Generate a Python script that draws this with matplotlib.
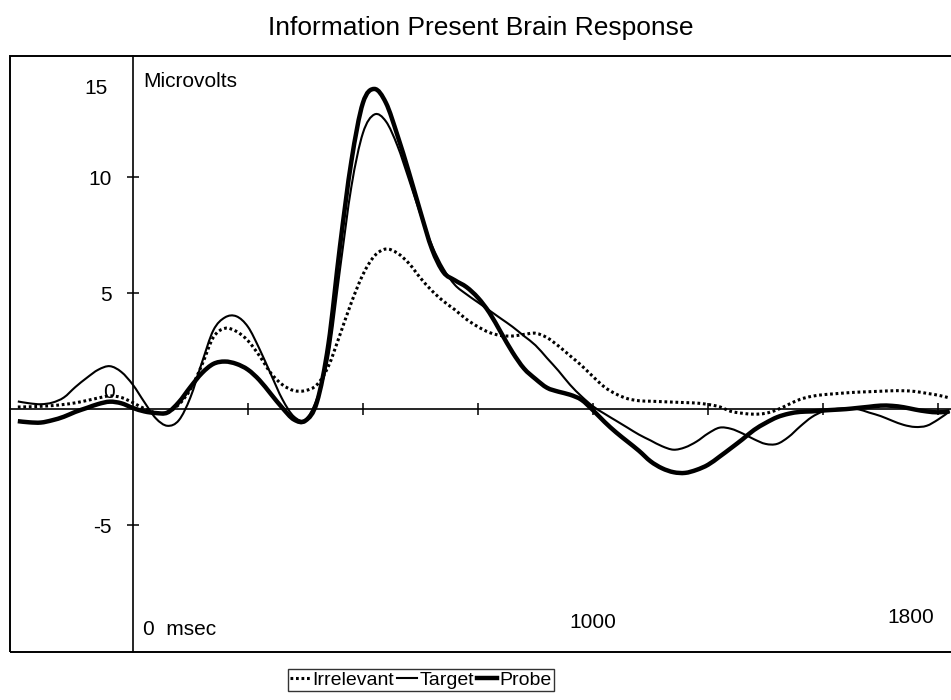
import numpy as np
import matplotlib
matplotlib.use("Agg")
import matplotlib.pyplot as plt
from matplotlib.patches import Rectangle, PathPatch
from matplotlib.path import Path
from matplotlib.lines import Line2D

plt.rcParams['font.family'] = ['Liberation Sans', 'DejaVu Sans']

# time axis (msec), one sample every 25 ms
time_ms = np.arange(-250, 1776, 25)

# averaged brain responses (microvolts)
irrelevant = [0.09, 0.10, 0.12, 0.15, 0.20, 0.27, 0.37, 0.48, 0.57, 0.50,
              0.28, 0.02, -0.15, -0.15, 0.20, 0.85, 1.90, 3.10, 3.48, 3.35,
              2.95, 2.30, 1.55, 1.05, 0.80, 0.80, 1.05, 1.85, 3.20, 4.60,
              5.80, 6.60, 6.90, 6.72, 6.28, 5.65, 5.10, 4.65, 4.28, 3.87,
              3.55, 3.30, 3.17, 3.15, 3.22, 3.27, 3.08, 2.72, 2.30, 1.88,
              1.40, 0.95, 0.65, 0.45, 0.36, 0.34, 0.32, 0.30, 0.28, 0.26,
              0.20, 0.10, -0.10, -0.18, -0.22, -0.18, -0.03, 0.20, 0.42, 0.55,
              0.62, 0.66, 0.70, 0.73, 0.75, 0.77, 0.79, 0.79, 0.76, 0.68,
              0.60, 0.48]

target = [0.33, 0.25, 0.21, 0.28, 0.50, 0.95, 1.35, 1.70, 1.85, 1.60,
          1.05, 0.30, -0.40, -0.72, -0.48, 0.50, 2.00, 3.40, 3.95, 4.00,
          3.55, 2.60, 1.50, 0.42, -0.32, -0.45, 0.45, 2.30, 6.00, 9.60,
          11.90, 12.70, 12.40, 11.35, 9.90, 8.40, 7.05, 6.05, 5.35, 4.95,
          4.60, 4.25, 3.90, 3.55, 3.15, 2.75, 2.20, 1.65, 1.05, 0.55,
          0.12, -0.20, -0.50, -0.80, -1.10, -1.35, -1.60, -1.75, -1.65, -1.40,
          -1.05, -0.80, -0.85, -1.05, -1.30, -1.50, -1.50, -1.20, -0.75, -0.35,
          -0.10, 0.00, 0.03, 0.00, -0.15, -0.30, -0.50, -0.68, -0.77, -0.72,
          -0.45, -0.10]

probe = [-0.52, -0.57, -0.58, -0.48, -0.33, -0.12, 0.05, 0.22, 0.32, 0.25,
         0.05, -0.10, -0.17, -0.15, 0.30, 0.95, 1.55, 1.95, 2.05, 1.95,
         1.70, 1.25, 0.65, 0.05, -0.45, -0.50, 0.30, 2.80, 7.00, 10.70,
         13.20, 13.80, 13.20, 11.80, 10.20, 8.50, 6.90, 5.90, 5.55, 5.26,
         4.80, 4.15, 3.30, 2.45, 1.75, 1.30, 0.92, 0.75, 0.62, 0.40,
         -0.05, -0.55, -1.00, -1.40, -1.80, -2.25, -2.55, -2.72, -2.75, -2.62,
         -2.40, -2.05, -1.68, -1.30, -0.90, -0.60, -0.35, -0.20, -0.12, -0.10,
         -0.06, -0.03, 0.00, 0.05, 0.10, 0.15, 0.14, 0.08, -0.02, -0.10,
         -0.14, -0.10]

x_ticks = [250, 500, 750, 1000, 1250, 1500, 1750]
y_ticks = [-5, 5, 10]

series = [
    ('Irrelevant', irrelevant, dict(lw=2.2, linestyle=(0, (0.9, 0.9)))),
    ('Target', target, dict(lw=1.5, linestyle='-')),
    ('Probe', probe, dict(lw=3.2, linestyle='-')),
]


def smooth_path(x, y):
    """Excel-style smoothed line: Bezier segments through every point."""
    pts = np.column_stack([x, y]).astype(float)
    padded = np.vstack([pts[0], pts, pts[-1]])
    verts = [pts[0]]
    codes = [Path.MOVETO]
    for i in range(len(pts) - 1):
        p0, p1, p2, p3 = padded[i], padded[i + 1], padded[i + 2], padded[i + 3]
        verts += [p1 + (p2 - p0) / 6, p2 - (p3 - p1) / 6, p2]
        codes += [Path.CURVE4] * 3
    return Path(verts, codes)


fig = plt.figure(figsize=(9.51, 7.0), dpi=100)
ax = fig.add_axes([10 / 951, 48 / 700, 941 / 951, 596 / 700])
ax.set_xlim(-267, 1778)
ax.set_ylim(-10.47, 15.22)

handles = []
for name, values, style in series:
    ax.add_patch(PathPatch(smooth_path(time_ms, values), fill=False,
                           edgecolor='black', joinstyle='round',
                           capstyle='butt', **style))
    handles.append(Line2D([], [], color='black', label=name, **style))

# axes cross at the origin, outer box drawn separately
for side in ('top', 'right'):
    ax.spines[side].set_visible(False)
ax.spines['left'].set_position(('data', 0))
ax.spines['bottom'].set_position(('data', 0))
ax.spines['left'].set_linewidth(1.2)
ax.spines['bottom'].set_linewidth(1.2)
ax.set_xticks(x_ticks)
ax.set_xticklabels([])
ax.set_yticks(y_ticks)
ax.set_yticklabels([str(v) for v in y_ticks])
ax.tick_params(axis='both', direction='inout', length=9, width=1.1)
ax.tick_params(axis='y', labelsize=15, pad=11)

fig.patches.append(Rectangle((10 / 951, 48 / 700), 1.2, 596 / 700,
                             transform=fig.transFigure, fill=False,
                             edgecolor='black', lw=1.4))

ax.text(-55, 13.8, '15', fontsize=15, ha='right', va='center')
ax.text(-40, 0.7, '0', fontsize=15, ha='right', va='center')
ax.text(22, 14.1, 'Microvolts', fontsize=15, ha='left', va='center')
ax.text(22, -9.5, '0  msec', fontsize=15, ha='left', va='center')
ax.text(1000, -9.2, '1000', fontsize=15, ha='center', va='center')
ax.text(1690, -9.0, '1800', fontsize=15, ha='center', va='center')

fig.text(481 / 951, 1 - 28 / 700, 'Information Present Brain Response',
         fontsize=19, ha='center', va='center')

leg = fig.legend(handles=handles, loc='center',
                 bbox_to_anchor=(421 / 951, 1 - 680 / 700),
                 ncol=3, fontsize=14, frameon=True, fancybox=False,
                 handlelength=1.0, handletextpad=0.15, columnspacing=0.15,
                 borderpad=0.1, borderaxespad=0)
leg.get_frame().set_edgecolor('black')
leg.get_frame().set_linewidth(1.0)

fig.savefig('out.png', dpi=100)
